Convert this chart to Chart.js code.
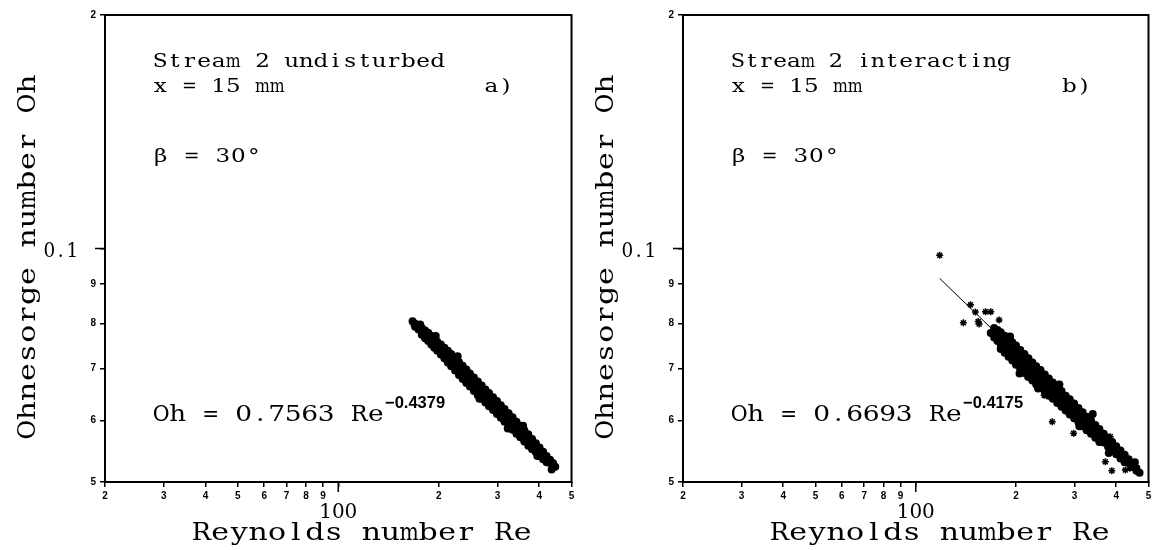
<!DOCTYPE html>
<html>
<head>
<meta charset="utf-8">
<script src="https://cdn.jsdelivr.net/npm/chart.js@4.4.0/dist/chart.umd.min.js"></script>
<style>
html, body { margin: 0; padding: 0; background: #fff; overflow: hidden; }
#wrap { position: relative; width: 1154px; height: 550px; }
canvas { position: absolute; top: 0; }
#chartA { left: 0; }
#chartB { left: 577px; }
</style>
</head>
<body>
<div id="wrap">
<canvas id="chartA" width="577" height="550"></canvas>
<canvas id="chartB" width="577" height="550"></canvas>
</div>
<script>
// log axes, labelled the old way (mantissa only)
const reTicks = [20, 30, 40, 50, 60, 70, 80, 90, 100, 200, 300, 400, 500];
const reTickLabels = ['2', '3', '4', '5', '6', '7', '8', '9', '', '2', '3', '4', '5'];
const ohTicks = [0.05, 0.06, 0.07, 0.08, 0.09, 0.1, 0.2];
const ohTickLabels = ['5', '6', '7', '8', '9', '', '2'];

// a) stream 2 undisturbed, [Re, Oh]
const bandA = [
  [167,0.0806],[170,0.0800],[170,0.0793],[174,0.0795],[174,0.0786],[176,0.0798],
  [178,0.0790],[178,0.0781],[178,0.0774],[182,0.0784],[182,0.0775],[182,0.0766],
  [186,0.0779],[186,0.0768],[186,0.0760],[190,0.0772],[190,0.0761],[190,0.0752],
  [194,0.0766],[194,0.0755],[194,0.0745],[196,0.0771],[198,0.0758],[198,0.0747],[198,0.0738],
  [203,0.0752],[203,0.0740],[203,0.0730],[208,0.0745],[208,0.0733],[208,0.0722],
  [213,0.0738],[213,0.0725],[213,0.0713],[218,0.0731],[218,0.0717],[218,0.0705],
  [224,0.0722],[224,0.0708],[224,0.0696],[228,0.0726],[230,0.0714],[230,0.0700],[230,0.0687],
  [236,0.0706],[236,0.0692],[236,0.0679],[242,0.0698],[242,0.0684],[242,0.0671],
  [248,0.0690],[248,0.0676],[248,0.0664],[255,0.0682],[255,0.0668],[255,0.0655],
  [262,0.0674],[262,0.0660],[262,0.0647],[265,0.0640],[269,0.0666],[269,0.0652],[269,0.0640],
  [276,0.0658],[276,0.0645],[276,0.0633],[283,0.0651],[283,0.0638],[283,0.0626],
  [291,0.0643],[291,0.0631],[291,0.0619],[299,0.0636],[299,0.0624],[299,0.0612],
  [307,0.0628],[307,0.0616],[307,0.0605],[315,0.0621],[315,0.0609],[315,0.0598],
  [322,0.0586],[324,0.0613],[324,0.0601],[324,0.0591],[333,0.0606],[333,0.0594],[333,0.0584],
  [342,0.0598],[342,0.0587],[342,0.0577],[351,0.0591],[351,0.0580],[351,0.0571],
  [358,0.0591],[361,0.0583],[361,0.0573],[361,0.0564],[371,0.0576],[371,0.0566],[371,0.0557],
  [381,0.0568],[381,0.0560],[381,0.0551],[391,0.0561],[391,0.0553],[391,0.0546],
  [395,0.0540],[401,0.0554],[401,0.0547],[401,0.0540],[411,0.0547],[411,0.0541],[411,0.0535],
  [421,0.0540],[421,0.0535],[421,0.0530],[431,0.0534],[431,0.0529],[436,0.0519],
  [440,0.0529],[440,0.0524],[447,0.0523]
];
const oddA = [[168, 0.0798]];
const fitA = [[167, 0.0804], [452, 0.0520]];

// b) stream 2 interacting, [Re, Oh]
const bandB = [
  [168,0.0778],[172,0.0790],[172,0.0778],[172,0.0768],[176,0.0785],[176,0.0772],[176,0.0760],
  [180,0.0780],[180,0.0766],[180,0.0752],[180,0.0742],[185,0.0772],[185,0.0758],[185,0.0744],[185,0.0734],
  [190,0.0764],[190,0.0750],[190,0.0736],[190,0.0725],[192,0.0770],
  [195,0.0757],[195,0.0742],[195,0.0728],[195,0.0717],[200,0.0750],[200,0.0734],[200,0.0720],[200,0.0708],
  [205,0.0690],[206,0.0740],[206,0.0725],[206,0.0711],[206,0.0699],
  [212,0.0731],[212,0.0716],[212,0.0703],[212,0.0691],[218,0.0722],[218,0.0708],[218,0.0695],[218,0.0683],
  [224,0.0713],[224,0.0700],[224,0.0688],[224,0.0676],[230,0.0705],[230,0.0692],[230,0.0680],[230,0.0668],
  [233,0.0660],[237,0.0697],[237,0.0684],[237,0.0672],[237,0.0661],
  [244,0.0688],[244,0.0676],[244,0.0664],[244,0.0653],[251,0.0680],[251,0.0668],[251,0.0657],[251,0.0646],
  [258,0.0672],[258,0.0661],[258,0.0650],[258,0.0640],[266,0.0663],[266,0.0652],[266,0.0642],[266,0.0632],
  [270,0.0668],[274,0.0655],[274,0.0644],[274,0.0634],[274,0.0625],
  [282,0.0646],[282,0.0636],[282,0.0627],[282,0.0618],[290,0.0639],[290,0.0629],[290,0.0620],[290,0.0611],
  [299,0.0631],[299,0.0621],[299,0.0612],[299,0.0604],[308,0.0623],[308,0.0613],[308,0.0605],[308,0.0597],
  [310,0.0590],[317,0.0615],[317,0.0606],[317,0.0598],[317,0.0590],
  [326,0.0607],[326,0.0598],[326,0.0590],[326,0.0583],[336,0.0600],[336,0.0591],[336,0.0583],[336,0.0577],
  [340,0.0612],[346,0.0592],[346,0.0584],[346,0.0576],[346,0.0570],
  [356,0.0585],[356,0.0577],[356,0.0569],[356,0.0563],[367,0.0577],[367,0.0569],[367,0.0562],
  [378,0.0570],[378,0.0562],[378,0.0555],[380,0.0545],[389,0.0563],[389,0.0555],[389,0.0549],
  [400,0.0556],[400,0.0549],[400,0.0543],[412,0.0549],[412,0.0542],[412,0.0536],
  [424,0.0542],[424,0.0536],[424,0.0530],[436,0.0535],[436,0.0529],
  [448,0.0528],[448,0.0523],[455,0.0530],[460,0.0521],[460,0.0517],[470,0.0514]
];
const oddB = [
  [118,0.0980],[139,0.0802],[146,0.0846],[151,0.0828],[154,0.0805],[155,0.0799],
  [162,0.0829],[168,0.0829],[178,0.0809],[216,0.0684],[243,0.0647],[257,0.0598],
  [298,0.0578],[371,0.0531],[384,0.0572],[388,0.0517],[426,0.0518],[439,0.0521]
];
const fitB = [[118, 0.0915], [476, 0.0513]];

const panelA = { title: 'Stream 2 undisturbed', pitch: 14.6, tag: 'a)', coef: '0.7563', expo: '\u22120.4379', axisW: 105, padRight: 3 };
const panelB = { title: 'Stream 2 interacting', pitch: 14.0, tag: 'b)', coef: '0.6693', expo: '\u22120.4175', axisW: 106, padRight: 2 };

const serif = '"DejaVu Serif", "Liberation Serif", serif';
const tickFont = { family: '"Liberation Sans", Arial, sans-serif', size: 10, weight: 'bold' };

// typewriter lettering: serif glyphs widened and set on a fixed pitch
function monoText(ctx, s, x, y, pitch, stretch, align) {
  const total = s.length * pitch;
  const x0 = align === 'center' ? x - total / 2 : align === 'right' ? x - total : x;
  ctx.textAlign = 'center';
  for (let i = 0; i < s.length; i++) {
    const ch = s[i];
    if (ch === ' ') continue;
    const gw = ctx.measureText(ch).width;
    const sx = Math.min(stretch, pitch * 1.02 / gw);
    ctx.save();
    ctx.translate(x0 + (i + 0.5) * pitch, y);
    ctx.scale(sx, 1);
    ctx.fillText(ch, 0, 0);
    ctx.restore();
  }
  return total;
}

// frame, the two big tick labels, axis titles and the text inside the plot
const decor = {
  id: 'decor',
  afterDraw(chart, args, o) {
    const { ctx, chartArea: a, scales: { x, y } } = chart;
    ctx.save();
    ctx.strokeStyle = '#000';
    ctx.lineWidth = 2;
    ctx.strokeRect(a.left, a.top, a.right - a.left, a.bottom - a.top);

    const x100 = x.getPixelForValue(100);
    const y01 = y.getPixelForValue(0.1);
    ctx.lineWidth = 1.5;
    ctx.beginPath();
    ctx.moveTo(x100, a.bottom); ctx.lineTo(x100, a.bottom + 10);
    ctx.moveTo(a.left - 10, y01); ctx.lineTo(a.left, y01);
    ctx.stroke();

    ctx.fillStyle = '#000';
    ctx.textBaseline = 'alphabetic';
    ctx.font = '20px ' + serif;
    monoText(ctx, '100', x100, a.bottom + 36, 12.7, 1.0, 'center');
    monoText(ctx, '0.1', a.left - 27, y01 + 8, 11.5, 1.0, 'right');

    ctx.font = '25px ' + serif;
    monoText(ctx, 'Reynolds number Re', a.left + 257, a.bottom + 58, 18.9, 1.2, 'center');
    ctx.save();
    ctx.translate(a.left - 70, 257);
    ctx.rotate(-Math.PI / 2);
    monoText(ctx, 'Ohnesorge number Oh', 0, 0, 19.2, 1.2, 'center');
    ctx.restore();

    ctx.font = '18.5px ' + serif;
    monoText(ctx, o.title, a.left + 48, 67, o.pitch, 1.25, 'left');
    monoText(ctx, 'x = 15 mm', a.left + 48, 92, 14.6, 1.25, 'left');
    monoText(ctx, o.tag, a.left + 379, 92, 14.6, 1.25, 'left');
    monoText(ctx, '\u03b2 = 30\u00b0', a.left + 48, 162, 15.5, 1.25, 'left');

    ctx.font = '23px ' + serif;
    const w = monoText(ctx, 'Oh = ' + o.coef + ' Re', a.left + 48, 421, 16.5, 1.15, 'left');
    ctx.font = 'bold 16.5px "Liberation Sans", Arial, sans-serif';
    ctx.textAlign = 'left';
    ctx.fillText(o.expo, a.left + 48 + w + 1, 408);
    ctx.restore();
  }
};

const toXY = arr => arr.map(p => ({ x: p[0], y: p[1] }));

function makeChart(id, band, odd, fit, panel) {
  return new Chart(id, {
    type: 'scatter',
    data: {
      datasets: [
        { data: toXY(fit), showLine: true, borderColor: '#000', backgroundColor: '#000', borderWidth: 1, pointRadius: 0 },
        { data: toXY(band), pointStyle: 'circle', pointRadius: 4, backgroundColor: '#000', borderColor: '#000', borderWidth: 0 },
        { data: toXY(odd), pointStyle: 'star', pointRadius: 3.5, backgroundColor: '#000', borderColor: '#000', borderWidth: 1.5 }
      ]
    },
    options: {
      responsive: false,
      animation: false,
      layout: { padding: { left: 0, right: panel.padRight, top: 15, bottom: 0 } },
      plugins: { legend: { display: false }, tooltip: { enabled: false }, decor: panel },
      scales: {
        x: {
          type: 'logarithmic', min: 20, max: 500,
          afterBuildTicks: s => { s.ticks = reTicks.map(v => ({ value: v })); },
          afterFit: s => { s.height = 68; s.paddingLeft = 0; s.paddingRight = 0; },
          ticks: { autoSkip: false, maxRotation: 0, padding: 3, color: '#000', font: tickFont,
                   callback: (v, i) => reTickLabels[i] },
          grid: { drawOnChartArea: false, tickLength: 5, color: '#000', lineWidth: 1.5 },
          border: { color: '#000', width: 2 }
        },
        y: {
          type: 'logarithmic', min: 0.05, max: 0.2,
          afterBuildTicks: s => { s.ticks = ohTicks.map(v => ({ value: v })); },
          afterFit: s => { s.width = panel.axisW; s.paddingTop = 0; s.paddingBottom = 0; },
          ticks: { autoSkip: false, padding: 4, color: '#000', font: tickFont,
                   callback: (v, i) => ohTickLabels[i] },
          grid: { drawOnChartArea: false, tickLength: 5, color: '#000', lineWidth: 1.5 },
          border: { color: '#000', width: 2 }
        }
      }
    },
    plugins: [decor]
  });
}

makeChart('chartA', bandA, oddA, fitA, panelA);
makeChart('chartB', bandB, oddB, fitB, panelB);
</script>
</body>
</html>
